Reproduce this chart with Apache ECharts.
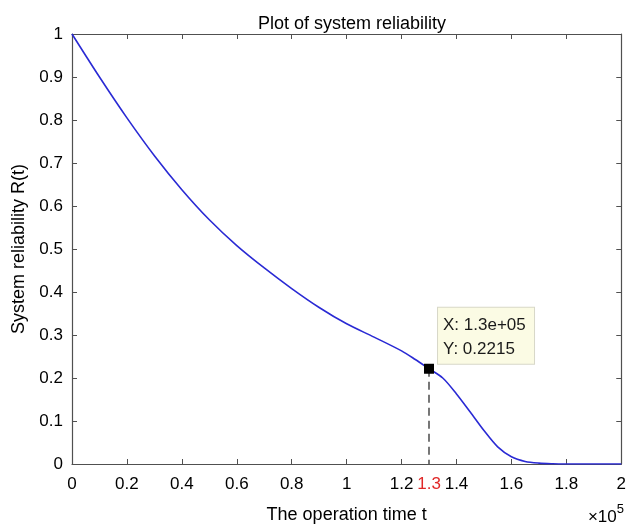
<!DOCTYPE html>
<html>
<head>
<meta charset="utf-8">
<script src="https://cdn.jsdelivr.net/npm/echarts@6/dist/echarts.min.js"></script>
<style>
html,body{margin:0;padding:0;background:#fff;}
#main{width:629px;height:529px;}
</style>
</head>
<body>
<div id="main"></div>
<script>
// operation time t (in units of 1e5)
var tValues = [0, 0.1, 0.2, 0.3, 0.4, 0.5, 0.6, 0.7, 0.8, 0.9, 1.0, 1.1, 1.2, 1.25, 1.3, 1.35, 1.4, 1.45, 1.5, 1.55, 1.6, 1.65, 1.7, 1.75, 1.8, 1.9, 2.0];
// system reliability R(t)
var rValues = [1.0, 0.90, 0.805, 0.717, 0.638, 0.568, 0.508, 0.456, 0.408, 0.364, 0.326, 0.295, 0.263, 0.243, 0.2215, 0.200, 0.163, 0.121, 0.078, 0.040, 0.017, 0.006, 0.002, 0.0006, 0.0001, 0, 0];
var xTickValues = [0, 0.2, 0.4, 0.6, 0.8, 1, 1.2, 1.4, 1.6, 1.8, 2];
var xLabelValues = [0, 0.2, 0.4, 0.6, 0.8, 1, 1.2, 1.3, 1.4, 1.6, 1.8, 2];
var highlightT = 1.3;
var tipPoint = [1.3, 0.2215];
var tipLines = ['X: 1.3e+05', 'Y: 0.2215'];

var FONT = '"Liberation Sans", Arial, Helvetica, sans-serif';
var AX = '#505050';

var chart = echarts.init(document.getElementById('main'), null, {renderer: 'canvas'});
var lineData = tValues.map(function (t, i) { return [t, rValues[i]]; });

function frameAxis(pos, extra) {
  var a = {
    type: 'value', position: pos,
    axisLine: {show: true, onZero: false, lineStyle: {color: AX, width: 1.2}},
    axisTick: {show: true, inside: true, length: 5, lineStyle: {color: AX}},
    axisLabel: {show: false},
    splitLine: {show: false}
  };
  for (var k in extra) a[k] = extra[k];
  return a;
}

var option = {
  animation: false,
  backgroundColor: '#ffffff',
  title: {
    text: 'Plot of system reliability',
    left: 347, top: 10, textAlign: 'center',
    textStyle: {fontFamily: FONT, fontSize: 18, fontWeight: 'normal', color: '#000'}
  },
  grid: {left: 72, right: 7, top: 34, bottom: 62, containLabel: false},
  xAxis: [{
    type: 'value', min: 0, max: 2, position: 'bottom',
    name: 'The operation time t', nameLocation: 'middle', nameGap: 42,
    nameTextStyle: {fontFamily: FONT, fontSize: 18, color: '#000'},
    axisLine: {show: true, onZero: false, lineStyle: {color: AX, width: 1.2}},
    axisTick: {show: true, inside: true, length: 5, customValues: xTickValues, lineStyle: {color: AX}},
    axisLabel: {
      margin: 12, fontFamily: FONT, fontSize: 17, color: '#000',
      customValues: xLabelValues,
      formatter: function (v) {
        var s = String(Math.round(v * 10) / 10);
        return Math.abs(v - highlightT) < 1e-9 ? '{r|' + s + '}' : s;
      },
      rich: {r: {color: '#e02828', fontFamily: FONT, fontSize: 17}}
    },
    splitLine: {show: false}
  }, frameAxis('top', {min: 0, max: 2,
    axisTick: {show: true, inside: true, length: 5, customValues: xTickValues, lineStyle: {color: AX}}})],
  yAxis: [{
    type: 'value', min: 0, max: 1, interval: 0.1, position: 'left',
    name: 'System reliability R(t)', nameLocation: 'middle', nameGap: 43,
    nameTextStyle: {fontFamily: FONT, fontSize: 18, color: '#000'},
    axisLine: {show: true, onZero: false, lineStyle: {color: AX, width: 1.2}},
    axisTick: {show: true, inside: true, length: 5, lineStyle: {color: AX}},
    axisLabel: {margin: 9, fontFamily: FONT, fontSize: 17, color: '#000'},
    splitLine: {show: false}
  }, frameAxis('right', {min: 0, max: 1, interval: 0.1})],
  series: [{
    type: 'line', data: lineData, smooth: 0.3, showSymbol: false,
    lineStyle: {color: '#2a2ad4', width: 1.6},
    z: 2
  }, {
    type: 'scatter', data: [tipPoint], symbol: 'rect', symbolSize: 10,
    itemStyle: {color: '#000', opacity: 1},
    z: 5,
    label: {
      show: true, position: [14, -56],
      formatter: tipLines.join('\n'),
      fontFamily: FONT, fontSize: 17, color: '#1a1a1a', lineHeight: 24,
      backgroundColor: '#fbfbe4', borderColor: '#d8d8c8', borderWidth: 1,
      padding: [6, 6, 2, 5], width: 85, align: 'left', verticalAlign: 'top'
    },
    markLine: {
      symbol: 'none', silent: true, label: {show: false},
      lineStyle: {color: '#555', width: 1.6, type: [8, 5]},
      data: [[{coord: tipPoint}, {coord: [tipPoint[0], 0]}]]
    }
  }],
  graphic: [{
    type: 'text', right: 5, top: 503,
    style: {
      text: '{a|\u00d710}{b|5}',
      rich: {
        a: {fontFamily: FONT, fontSize: 17, color: '#000', padding: [10, 0, 0, 0]},
        b: {fontFamily: FONT, fontSize: 13, color: '#000', padding: [0, 0, 6, 0]}
      }
    }
  }]
};
chart.setOption(option);
</script>
</body>
</html>
